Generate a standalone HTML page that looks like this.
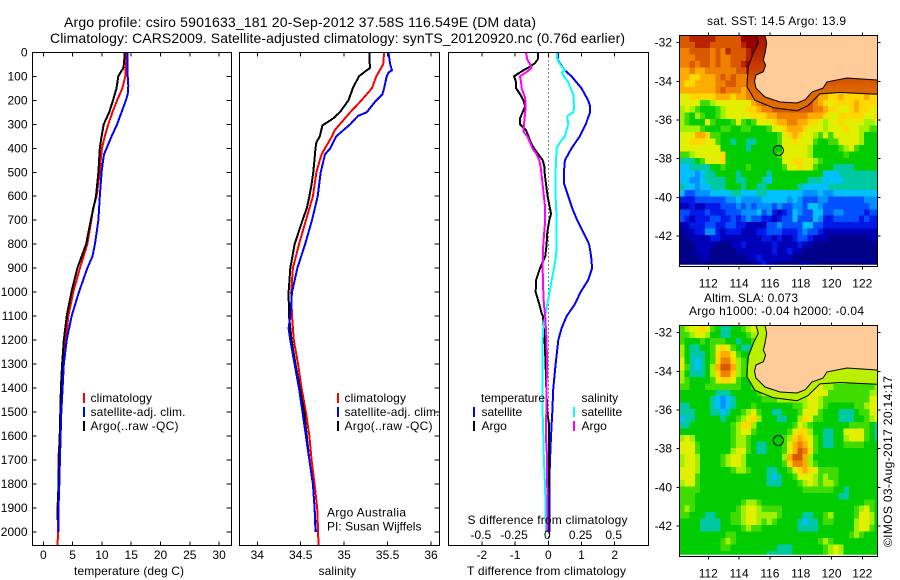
<!DOCTYPE html>
<html lang="en">
<head>
<meta charset="utf-8">
<title>Argo profile 5901633_181</title>
<style>
html,body{margin:0;padding:0;background:#fff;}
svg{display:block;}
text{font-family:"Liberation Sans",sans-serif;font-size:12px;fill:#000;}
.title{font-size:14px;}
.mid{text-anchor:middle;}
</style>
</head>
<body>
<svg id="chart" width="900" height="580" viewBox="0 0 900 580" xmlns="http://www.w3.org/2000/svg">
  <defs>
    <linearGradient id="sst-band-fill" x1="0" y1="0" x2="0" y2="1">
      <stop offset="0" stop-color="#a81000"/>
      <stop offset="0.45" stop-color="#c84000"/>
      <stop offset="0.7" stop-color="#dc6400"/>
      <stop offset="1" stop-color="#e07000"/>
    </linearGradient>
  </defs>
  <text class="title" x="64" y="27" textLength="472" lengthAdjust="spacing">Argo profile: csiro 5901633_181 20-Sep-2012 37.58S 116.549E (DM data)</text>
  <text class="title" x="50" y="43" textLength="575" lengthAdjust="spacing">Climatology: CARS2009. Satellite-adjusted climatology: synTS_20120920.nc (0.76d earlier)</text>
  <g id="plots"></g>

  <text x="74" y="575" textLength="110" lengthAdjust="spacing">temperature (deg C)</text>
  <text x="318.5" y="575" textLength="37.5" lengthAdjust="spacing">salinity</text>
  <text x="467" y="575" textLength="159" lengthAdjust="spacing">T difference from climatology</text>
  <text x="467.5" y="524" textLength="160" lengthAdjust="spacing">S difference from climatology</text>

  <g>
    <rect x="83" y="393" width="2" height="10" fill="#f00"/>
    <text x="90.5" y="402" textLength="61.5" lengthAdjust="spacing">climatology</text>
    <rect x="83" y="407" width="2" height="10" fill="#00f"/>
    <text x="90.5" y="416" textLength="95" lengthAdjust="spacing">satellite-adj. clim.</text>
    <rect x="83" y="421" width="2" height="10" fill="#000"/>
    <text x="90.5" y="430" textLength="88" lengthAdjust="spacing">Argo(..raw -QC)</text>
  </g>
  <g>
    <rect x="337" y="393" width="2" height="10" fill="#f00"/>
    <text x="344.5" y="402" textLength="61.5" lengthAdjust="spacing">climatology</text>
    <rect x="337" y="407" width="2" height="10" fill="#00f"/>
    <text x="344.5" y="416" textLength="95" lengthAdjust="spacing">satellite-adj. clim.</text>
    <rect x="337" y="421" width="2" height="10" fill="#000"/>
    <text x="344.5" y="430" textLength="88" lengthAdjust="spacing">Argo(..raw -QC)</text>
  </g>
  <text x="327" y="516.5" textLength="79" lengthAdjust="spacing">Argo Australia</text>
  <text x="327" y="530.5" textLength="94.5" lengthAdjust="spacing">PI: Susan Wijffels</text>
  <g>
    <text x="481" y="402" textLength="64" lengthAdjust="spacing">temperature</text>
    <rect x="473" y="407" width="2" height="10" fill="#00f"/>
    <text x="481.5" y="416">satellite</text>
    <rect x="473" y="421" width="2" height="10" fill="#000"/>
    <text x="481.5" y="430">Argo</text>
    <text x="581.5" y="402">salinity</text>
    <rect x="573" y="407" width="2" height="10" fill="#0ff"/>
    <text x="581.5" y="416">satellite</text>
    <rect x="573" y="421" width="2" height="10" fill="#f0f"/>
    <text x="581.5" y="430">Argo</text>
  </g>

  <text x="707" y="25" textLength="139" lengthAdjust="spacing">sat. SST: 14.5 Argo: 13.9</text>
  <text x="704" y="302" textLength="94" lengthAdjust="spacing">Altim. SLA: 0.073</text>
  <text x="689" y="315" textLength="175" lengthAdjust="spacing">Argo h1000: -0.04 h2000: -0.04</text>
  <text transform="translate(892,547) rotate(-90)" textLength="171" lengthAdjust="spacing">©IMOS 03-Aug-2017 20:14:17</text>
</svg>

<script>
// ---- axis tick values ----
const depthTicks = [0,100,200,300,400,500,600,700,800,900,1000,1100,1200,1300,1400,1500,1600,1700,1800,1900,2000];
const tempTicks = [0,5,10,15,20,25,30];
const salTicks = [34,34.5,35,35.5,36];
const tDiffTicks = [-2,-1,0,1,2];
const sDiffTicks = [-0.5,-0.25,0,0.25,0.5];
const lonTicks = [112,114,116,118,120,122];
const latTicks = [-32,-34,-36,-38,-40,-42];

// ---- temperature profiles ----
const tempClimDepth = [0,50,100,150,200,250,300,350,400,450,500,600,650,700,800,900,1000,1100,1200,1300,1400,1500,1600,1700,1800,1900,2000,2055];
const tempClimValue = [14.1,14.1,14.0,13.5,12.6,11.8,11.1,10.5,10.0,9.8,9.65,9.1,8.5,8.2,7.5,6.25,5.1,4.26,3.86,3.4,3.2,3.07,2.84,2.56,2.65,2.4,2.55,2.4];
const tempSatDepth = [0,100,140,175,200,250,300,350,400,425,450,500,600,700,800,850,900,1000,1100,1200,1300,1400,1500,1600,1700,1800,1900,2000];
const tempSatValue = [14.4,14.4,14.5,14.4,14.1,13.35,12.6,11.65,10.8,10.35,10.2,9.95,9.65,9.4,8.8,8.4,7.5,6.08,4.83,4.0,3.5,3.3,3.07,2.95,2.84,2.73,2.6,2.56];
const tempArgoDepth = [0,50,70,75,100,150,200,250,300,350,400,500,600,700,800,900,1000,1100,1200,1300,1400,1500,1600,1700,1800,1900,1950];
const tempArgoValue = [13.9,13.75,13.6,13.4,12.8,12.5,11.9,11.25,10.3,9.95,9.65,9.4,9.0,8.1,7.3,5.8,4.8,4.0,3.5,3.2,3.0,2.9,2.8,2.67,2.6,2.45,2.4];

// ---- salinity profiles ----
const salClimDepth = [0,50,75,100,150,175,200,250,300,325,350,400,425,450,500,600,650,700,800,900,1000,1100,1200,1300,1400,1500,1600,1700,1800,1900,2000,2055];
const salClimValue = [35.46,35.45,35.41,35.37,35.32,35.26,35.2,35.07,34.95,34.89,34.86,34.78,34.74,34.72,34.68,34.64,34.6,34.56,34.48,34.41,34.39,34.4,34.42,34.47,34.51,34.56,34.6,34.625,34.66,34.69,34.7,34.705];
const salSatDepth = [0,50,75,85,100,150,175,200,250,265,300,350,400,425,500,600,700,800,900,1000,1100,1150,1200,1300,1400,1500,1600,1700,1800,1900,2000];
const salSatValue = [35.51,35.53,35.55,35.51,35.49,35.46,35.44,35.37,35.26,35.16,35.07,34.91,34.84,34.78,34.73,34.695,34.63,34.55,34.46,34.4,34.38,34.36,34.38,34.43,34.48,34.52,34.56,34.6,34.64,34.66,34.675];
const salArgoDepth = [0,30,65,75,100,150,200,250,275,305,350,375,400,500,550,600,650,700,800,900,1000,1100,1200,1300,1400,1500,1600,1700,1800,1900,2000];
const salArgoValue = [35.29,35.29,35.3,35.26,35.17,35.1,35.05,34.95,34.875,34.75,34.72,34.68,34.67,34.645,34.625,34.6,34.57,34.52,34.43,34.38,34.36,34.365,34.395,34.44,34.49,34.54,34.57,34.6,34.64,34.66,34.67];

// ---- difference profiles ----
const dTSatDepth = [0,30,50,75,100,125,150,175,200,225,250,275,300,350,400,425,450,500,550,600,650,700,750,800,850,900,950,1000,1050,1100,1150,1200,1300,1400,1500,1600,1700,1800,1900,2000];
const dTSatValue = [0.3,0.28,0.37,0.5,0.7,0.85,1.0,1.1,1.2,1.26,1.26,1.19,1.13,0.95,0.7,0.6,0.5,0.47,0.48,0.6,0.72,0.87,1.05,1.23,1.29,1.32,1.2,0.97,0.8,0.55,0.4,0.3,0.22,0.15,0.12,0.08,0.05,0.03,0.03,0.03];
const dTArgoDepth = [0,30,45,60,75,100,125,150,175,200,225,275,300,325,350,375,400,425,450,475,500,550,600,650,675,700,750,800,850,900,950,1000,1050,1090,1100,1200,1300,1400,1500,1550,1800,1900,2000];
const dTArgoValue = [-0.3,-0.32,-0.4,-0.55,-0.75,-1.03,-0.97,-0.97,-0.85,-0.75,-0.7,-0.85,-0.85,-0.67,-0.6,-0.53,-0.43,-0.3,-0.17,-0.12,-0.11,-0.07,-0.02,0.05,0.08,0.03,-0.03,-0.05,-0.09,-0.25,-0.37,-0.38,-0.27,-0.2,-0.16,-0.11,-0.08,-0.06,-0.03,0.02,0.02,0,0];
const dSSatDepth = [0,30,50,75,85,100,125,150,175,225,250,265,300,350,375,400,450,500,600,700,800,850,900,950,1000,1050,1100,1150,1200,1300,1400,1500,1600,1700,1800,1900,2000];
const dSSatValue = [.063,.068,.088,.125,.1,.118,.15,.168,.188,.195,.188,.143,.15,.125,.088,.063,.058,.055,.055,.063,.063,.058,.043,.025,.01,-.008,-.023,-.038,-.043,-.043,-.043,-.043,-.038,-.033,-.025,-.02,-.018];
const dSArgoDepth = [0,30,50,65,80,100,125,150,190,225,300,330,350,375,400,425,450,475,500,600,650,700,800,900,1000,1050,1100,1200,1300,1400,1500,1600,1700,1800,1900,2000];
const dSArgoValue = [-.168,-.158,-.138,-.125,-.158,-.213,-.205,-.2,-.175,-.17,-.183,-.188,-.158,-.138,-.12,-.088,-.068,-.058,-.053,-.033,-.023,-.023,-.038,-.043,-.038,-.033,-.023,-.013,-.01,-.013,-.015,-.018,-.008,-.008,-.005,-.005];

// ---- coastline and shelf contour (lon / lat) ----
const coastLon = [115.68,115.79,115.68,115.57,115.72,115.57,115.10,115.0,115.1,115.68,116.66,117.76,118.3,118.73,119.45,119.71,121.0,122.97];
const coastLat = [-31.62,-32.03,-32.55,-32.90,-33.16,-33.50,-33.67,-34.0,-34.35,-34.81,-35.07,-35.12,-34.95,-34.55,-34.35,-34.03,-33.83,-33.93];
const shelfLon = [115.10,115.25,114.92,114.60,114.53,114.51,115.03,116.2,117.76,118.47,119.25,120.55,122.97];
const shelfLat = [-31.62,-32.03,-32.55,-33.24,-33.9,-34.28,-34.98,-35.36,-35.52,-35.26,-34.65,-34.58,-34.67];
const profileLon = [116.549];
const profileLat = [-37.58];

// ---- map grids: one character per 1/3 degree cell ('.' = under land) ----
const mapLevels = '0123456789abcdefg';
const mapColors = ['#000088','#0000b8','#0018e8','#0050ff','#0090ff','#00c0ff','#00c8a0','#00cc00','#40dc00','#a0f000','#e0f000','#ffd800','#ffac00','#f08000','#d85800','#b82400','#980000'];
const sstRows = [
'eefffffeeeeeggggggf.',
'eeefffeeeeeefgggggf.',
'ddeeeededfeeefggff.',
'dddeeededdeeefgfff.',
'ddedeededdeefggf.',
'ccdccddddddeefgf.',
'ccbbcccdededddfff.',
'cbbccccddeedddeffe.',
'cccccccdedddcddefee.',
'aabbbbbcccbccddefeef.....ddccbbcbbbbcbb',
'aaaa889aaaaaaacdefffeeeeeedcbabbbbcbbbb',
'9a9877789aaaabbcddeeeeeeeeddcbbaabcbbaa',
'987987789aaaaabbbccddddddcccbaabbbbbaab',
'98777a87778a878aaabccddccbba9aabaaaa99a',
'999987778877887778aabcccbaaa9aaabaa9988',
'aaaccb88777777777778abcbaa98a8aaaaa9777',
'aabbbaa8776776677778aabaaa87788aaaa9777',
'aaaaaaaa777776777777aaaaa97777789a87777',
'889aaaaab77777777778aaaaa97777778777777',
'66678aaab77777777777aabbaa9877777777777',
'556666778777787777778aabaa8777666677777',
'555456677776777776777777777755566666666',
'554456666776677765777777766655556666666',
'655455666777677667777776555556666666666',
'533444555566555665555555444544555555555',
'222333333445444455555454333443333333444',
'112112223334343444343344355433333333344',
'332223222333444534212354335533443333233',
'321222332232343322123353335422333332322',
'112223322332211113343333553322222222222',
'011224421222111223332223433211111111111',
'001111221111111122121123321110000000011',
'000111100011211111211112110000000000000',
'000111000001111111211211000000000000000',
'000011000000011211111100000000000000000',
'000000000000000121000000100000000000000'
];
const slaRows = [
'89aaba8766778 9aa9.'.split(' ').join(''),
'889aa9776677789a9.',
'87778788877677899.',
'9766778aba8766788a.',
'9766678bcca877777a.',
'a76567 8bddb987778a.'.split(' ').join(''),
'a865679ceec987778aa.',
'9766679bddb987789aa.',
'9877778abba87778 9aaaba.'.split(' ').join(''),
'8877788888887788aaaaaaaaaaaa99888888889',
'77777776667777789aaa99aaaaaaa8888888899',
'7777776545677777888999999aa988888888 8aa'.split(' ').join(''),
'667777654567778777777788 9aa987777788 9aa'.split(' ').join(''),
'666777665677 89a877667778aaa877766678 8aa'.split(' ').join(''),
'566777776778 9ab977766779ba887776667789a'.split(' ').join(''),
'667777777789bb977777778a98777777788 8876'.split(' ').join(''),
'77777777778 9aa87777778abb97766 77aaaa876'.split(' ').join(''),
'9a977777778 998777777 89bcba8766 779aaa876'.split(' ').join(''),
'aaa87777778 99876677 78acdca8766 7788887 77'.split(' ').join(''),
'aaa8777777 9aa8766777 8acedb87777777777777'.split(' ').join(''),
'9aa97777 89aa977777779ceec9777777777777 7'.split(' ').join(''),
'9aa97777 89aa97777777 8bddc98777777777777'.split(' ').join(''),
'aaa9777777 8998777667 78abcba88887777777 7'.split(' ').join(''),
'aaa8777777 77777776567 78aaa9898877777777'.split(' ').join(''),
'9aa8777777 7777777666777 89a989987777777 7'.split(' ').join(''),
'888877777 777777777777777 8888887 767777 77'.split(' ').join(''),
'8887777777 7777777777777777777 77667777 77'.split(' ').join(''),
'8887777777 77 89987777777777777 7777777 887 7'.split(' ').join(''),
'8987777777 7 89aa988887777777 77777778 9a87'.split(' ').join(''),
'887776 67778 89aa99998777766 778977778aa97'.split(' ').join(''),
'777766667788 9aa9898777765667 887777 9aa97'.split(' ').join(''),
'777766667777 8988777777766667 7777779aa87'.split(' ').join(''),
'777777777887777777777777 7777777778 98 77'.split(' ').join(''),
'77777777898777777777777 777789 8777777 77'.split(' ').join(''),
'7777777788777777777666777777 89a9777777 7'.split(' ').join(''),
'7777777777777777766666777777 89a9777777 7'.split(' ').join('')
];

// ---- layout helpers ----
const NS = 'http://www.w3.org/2000/svg';
const root = document.getElementById('plots');
function mk(tag, attrs, parent) {
  const el = document.createElementNS(NS, tag);
  for (const k in attrs) el.setAttribute(k, attrs[k]);
  (parent || root).appendChild(el);
  return el;
}
const yTop = 52.3, depthScale = 0.2399;
const depthY = d => yTop + d * depthScale;
const frameBottom = 545.5;
const tempX = v => 43.3 + v * 5.86;
const salX = v => 257.3 + (v - 34) * 86.85;
const dTX = v => 548.3 + v * 33.2;
const dSX = v => 548.3 + v * 132.8;

function segment(x1, y1, x2, y2, name, color) {
  const s = mk('line', {x1, y1, x2, y2, stroke: color || '#000', 'stroke-width': 1, 'shape-rendering': 'crispEdges'});
  
  
  return s;
}
function label(x, y, txt, anchor, name) {
  const t = mk('text', {x, y, 'text-anchor': anchor});
  t.textContent = txt;
  
  
  return t;
}
function frame(x0, x1, y0, y1, name) {
  const r = mk('rect', {x: x0, y: y0, width: x1 - x0, height: y1 - y0, fill: 'none', stroke: '#000', 'stroke-width': 1, 'shape-rendering': 'crispEdges'});
  
  
}
function series(xFn, depths, values, color, name) {
  const pts = depths.map((d, i) => xFn(values[i]).toFixed(1) + ',' + depthY(d).toFixed(1)).join(' ');
  const p = mk('polyline', {points: pts, fill: 'none', stroke: color, 'stroke-width': 2, 'shape-rendering': 'crispEdges', 'stroke-linejoin': 'round'});
  
  
}
function xTicks(ticks, xFn, y0, y1, kind) {
  ticks.forEach(v => {
    const x = xFn(v);
    segment(x, y0, x, y0 + 4, kind + '-tick-top');
    segment(x, y1 - 4, x, y1, kind + '-tick-bottom');
  });
}

// ---- panel frames and profile lines ----
const p1 = [32.5, 231.5], p2 = [239.5, 439.5], p3 = [448.5, 648.5];

series(tempX, tempClimDepth, tempClimValue, '#f00', 'temperature-climatology-line');
series(tempX, tempArgoDepth, tempArgoValue, '#000', 'temperature-argo-line');
series(tempX, tempSatDepth, tempSatValue, '#00f', 'temperature-satellite-line');
frame(p1[0], p1[1], yTop, frameBottom, 'temperature-plot-frame');
xTicks(tempTicks, tempX, yTop, frameBottom, 'temperature');
tempTicks.forEach(v => {
  label(tempX(v), 559, String(v), 'middle', 'temperature-tick-label');
});

series(salX, salClimDepth, salClimValue, '#f00', 'salinity-climatology-line');
series(salX, salArgoDepth, salArgoValue, '#000', 'salinity-argo-line');
series(salX, salSatDepth, salSatValue, '#00f', 'salinity-satellite-line');
frame(p2[0], p2[1], yTop, frameBottom, 'salinity-plot-frame');
xTicks(salTicks, salX, yTop, frameBottom, 'salinity');
salTicks.forEach(v => {
  label(salX(v), 559, String(v), 'middle', 'salinity-tick-label');
});

depthTicks.forEach(d => {
  const y = depthY(d);
  segment(p1[0], y, p1[0] + 4, y, 'depth-tick');
  segment(p1[1] - 5, y, p1[1], y, 'depth-tick-right');
  segment(p2[1] - 5, y, p2[1], y, 'depth-tick-salinity');
  label(27.5, y + 4, String(d), 'end', 'depth-tick-label');
});

const zero = mk('line', {x1: dTX(0), y1: yTop, x2: dTX(0), y2: frameBottom, stroke: '#000', 'stroke-width': 1, 'stroke-dasharray': '1 3', 'shape-rendering': 'crispEdges'});


series(dTX, dTSatDepth, dTSatValue, '#00f', 'difference-t-satellite-line');
series(dTX, dTArgoDepth, dTArgoValue, '#000', 'difference-t-argo-line');
series(dSX, dSSatDepth, dSSatValue, '#0ff', 'difference-s-satellite-line');
series(dSX, dSArgoDepth, dSArgoValue, '#f0f', 'difference-s-argo-line');
frame(p3[0], p3[1], yTop, frameBottom, 'difference-plot-frame');
xTicks(tDiffTicks, dTX, yTop, frameBottom, 'difference');
tDiffTicks.forEach(v => {
  label(dTX(v), 559, String(v), 'middle', 't-difference-tick-label');
});
sDiffTicks.forEach(v => {
  label(dSX(v) - 1, 539, String(v), 'middle', 's-difference-tick-label');
});

// ---- maps ----
const lonX = lon => 708.3 + (lon - 112) * 15.4;
const cellLon0 = 110.12, cellLat0 = -31.62, cellStep = 1 / 3;
function drawMap(rows, name, lat32Y, top, bottom, gridBottom, bandFill) {
  const latY = lat => lat32Y + (-32 - lat) * 19.33;
  const left = 679.5, right = 877.5;
  const clipId = name + '-clip';
  const defs = mk('clipPath', {id: clipId});
  mk('rect', {x: left, y: top, width: right - left, height: gridBottom - top}, defs);
  const g = mk('g', {'clip-path': 'url(#' + clipId + ')'});
  
  
  rows.forEach((row, r) => {
    for (let c = 0; c < 39; c++) {
      const ch = c < row.length ? row[c] : row[row.length - 1];
      if (ch === '.') continue;
      const x0 = lonX(cellLon0 + c * cellStep), x1 = lonX(cellLon0 + (c + 1) * cellStep);
      const y0 = latY(cellLat0 - r * cellStep), y1 = latY(cellLat0 - (r + 1) * cellStep);
      const cell = mk('rect', {x: x0.toFixed(2), y: y0.toFixed(2), width: (x1 - x0 + 0.5).toFixed(2), height: (y1 - y0 + 0.5).toFixed(2), fill: mapColors[mapLevels.indexOf(ch)], 'shape-rendering': 'crispEdges'}, g);
      
      
    }
  });
  const coastPts = coastLon.map((v, i) => lonX(v).toFixed(1) + ',' + latY(coastLat[i]).toFixed(1));
  const shelfPts = shelfLon.map((v, i) => lonX(v).toFixed(1) + ',' + latY(shelfLat[i]).toFixed(1));
  const band = mk('polygon', {points: coastPts.concat(shelfPts.slice().reverse()).join(' '), fill: bandFill});
  
  
  const land = coastPts.slice();
  land.push(right + ',' + latY(coastLat[coastLat.length - 1]).toFixed(1));
  land.push(right + ',' + top);
  const landShape = mk('polygon', {points: land.join(' '), fill: '#ffcc99'});
  
  
  const coast = mk('polyline', {points: coastPts.join(' '), fill: 'none', stroke: '#000', 'stroke-width': 1});
  
  
  const shelf = mk('polyline', {points: shelfPts.join(' '), fill: 'none', stroke: '#000', 'stroke-width': 1});
  
  
  const marker = mk('circle', {cx: lonX(profileLon[0]), cy: latY(profileLat[0]), r: 5, fill: 'none', stroke: '#000', 'stroke-width': 1});
  
  
  frame(left, right, top, bottom, name + '-frame');
  lonTicks.forEach(v => {
    const x = lonX(v);
    segment(x, top - 3, x, top, name + '-lon-tick');
    segment(x, bottom, x, bottom + 3, name + '-lon-tick');
    label(x, bottom + 21, String(v), 'middle', name + '-lon-label');
  });
  latTicks.forEach(v => {
    const y = latY(v);
    segment(left - 3, y, left, y, name + '-lat-tick');
    segment(right, y, right + 3, y, name + '-lat-tick');
    label(672, y + 4, String(v), 'end', name + '-lat-label');
  });
}
drawMap(sstRows, 'sst-map', 42.67, 35.5, 266.5, 264.7, 'url(#sst-band-fill)');
drawMap(slaRows, 'sla-map', 332.67, 325.5, 556.5, 554.7, '#b8f000');
</script>
</body>
</html>
